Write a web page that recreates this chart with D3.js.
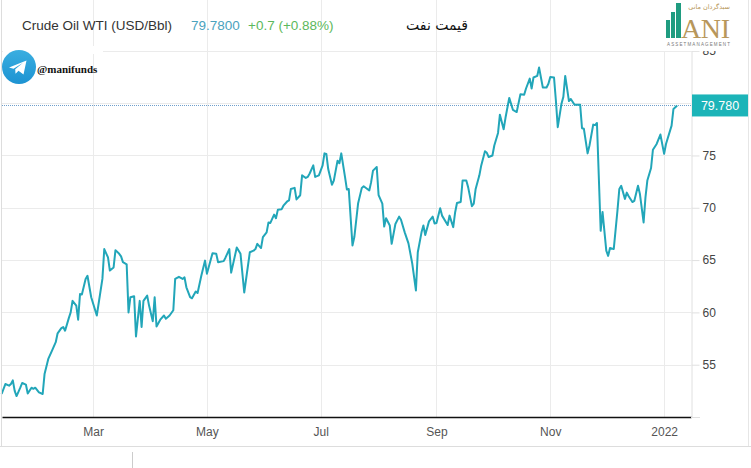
<!DOCTYPE html>
<html>
<head>
<meta charset="utf-8">
<script src="https://cdn.jsdelivr.net/npm/d3@7"></script>
<style>
	html, body { margin: 0; padding: 0; background: #fff; }
	svg { display: block; }
	.tick text { font-family: "Liberation Sans", Arial, sans-serif; }
</style>
</head>
<body>
<svg id="viz"></svg>
<script>
// days since 1 Jan 2021 (UTC) and WTI close
var days = [
	10, 12, 14, 15, 16, 17, 18, 20, 21, 23, 24, 26, 27, 28, 30, 32, 33, 35, 37, 39,
	40, 42, 43, 44, 46, 47, 48, 50, 51, 52, 53, 55, 56, 58, 61, 64, 65, 67, 68, 70,
	71, 73, 74, 75, 77, 78, 79, 81, 82, 84, 85, 86, 88, 89, 91, 92, 93, 95, 97, 98,
	100, 102, 103, 105, 107, 108, 109, 111, 112, 114, 115, 117, 119, 120, 123, 125, 126, 129, 130, 132,
	133, 136, 138, 140, 143, 145, 146, 147, 149, 150, 152, 153, 154, 156, 157, 158, 160, 161, 163, 164,
	165, 167, 168, 170, 171, 173, 174, 175, 177, 178, 180, 182, 183, 184, 185, 187, 188, 190, 191, 192,
	194, 195, 196, 198, 199, 201, 203, 204, 207, 208, 209, 211, 212, 214, 215, 216, 218, 219, 221, 223,
	224, 226, 228, 230, 232, 233, 235, 236, 237, 239, 241, 242, 243, 245, 246, 249, 250, 252, 253, 254,
	256, 257, 259, 260, 262, 263, 264, 266, 267, 269, 270, 271, 273, 274, 276, 277, 279, 280, 282, 284,
	286, 287, 288, 290, 291, 293, 294, 295, 297, 298, 300, 302, 303, 304, 306, 307, 308, 310, 311, 312,
	314, 315, 317, 320, 321, 322, 324, 325, 327, 328, 329, 331, 332, 334, 335, 336, 338, 340, 341, 342,
	344, 345, 346, 348, 349, 351, 352, 354, 355, 356, 358, 359, 361, 363, 365, 366, 369, 370, 372
];
var prices = [
	52.2, 53.15, 53.0, 53.15, 53.5, 52.5, 52.0, 52.8, 53.25, 53.1, 52.25, 52.8, 52.7, 52.8, 52.35, 52.2, 54.1, 55.55, 56.35, 57.15,
	58.0, 58.5, 58.6, 58.25, 59.45, 60.0, 61.1, 60.65, 59.3, 61.75, 61.7, 63.2, 63.5, 61.45, 59.7, 63.2, 66.05, 65.25, 64.0, 64.3,
	65.95, 65.6, 65.35, 64.8, 64.6, 60.0, 61.45, 61.55, 57.7, 61.1, 58.6, 61.1, 61.6, 60.65, 59.15, 61.45, 58.65, 59.3, 59.7, 59.4,
	59.7, 60.2, 63.2, 63.4, 63.2, 63.35, 62.4, 61.45, 61.35, 62.0, 61.85, 63.5, 64.95, 63.7, 65.65, 65.6, 64.8, 64.9, 65.25, 66.05,
	63.8, 66.2, 65.6, 61.9, 65.75, 65.9, 66.05, 66.55, 66.15, 67.2, 67.65, 68.6, 68.55, 69.35, 69.0, 69.8, 69.85, 70.2, 70.6, 70.7,
	71.8, 71.9, 70.8, 71.2, 73.1, 72.85, 72.95, 73.25, 74.05, 72.95, 73.1, 74.05, 75.2, 75.15, 73.7, 72.2, 72.6, 74.5, 74.25, 75.2,
	72.95, 71.75, 71.8, 66.4, 67.2, 70.4, 71.9, 72.05, 71.65, 72.45, 73.55, 73.9, 71.2, 70.4, 68.2, 69.0, 68.3, 66.55, 68.45, 69.15,
	68.85, 67.65, 66.6, 64.7, 62.1, 65.75, 67.65, 68.3, 67.4, 68.7, 69.15, 68.5, 68.55, 69.95, 69.25, 68.35, 69.25, 68.15, 69.55, 70.45,
	70.55, 72.6, 72.6, 71.95, 70.15, 70.4, 71.8, 73.1, 74.05, 75.4, 75.25, 74.85, 75.0, 75.95, 77.15, 78.9, 77.5, 78.6, 80.5, 79.35,
	79.15, 80.0, 80.85, 80.8, 81.4, 82.35, 81.4, 82.45, 82.6, 83.4, 81.5, 81.5, 81.85, 82.5, 82.45, 80.25, 77.7, 79.95, 80.6, 82.6,
	80.2, 80.4, 79.85, 79.85, 77.6, 77.55, 75.2, 75.95, 77.95, 77.9, 78.1, 67.8, 69.6, 65.9, 65.4, 66.15, 66.05, 69.75, 71.8, 72.1,
	70.85, 71.45, 71.1, 70.55, 70.65, 72.1, 71.35, 68.6, 71.0, 72.6, 73.8, 75.55, 76.1, 77.0, 75.15, 76.1, 77.85, 79.45, 79.78
];
var yTicks = [ 55, 60, 65, 70, 75, 80, 85 ];
var dayRange = [ 10.2, 379.4 ];
var valueRange = [ 50, 89.86 ];
var lastPrice = 79.78;
var title = 'Crude Oil WTI (USD/Bbl)';
var priceText = '79.7800';
var changeText = '+0.7 (+0.88%)';
var titleFa = 'قیمت نفت';

var colors = {
	line: '#22a6b9',
	badge: '#1cb4b8',
	grid: '#ebebeb',
	axisText: '#444'
};

var W = 751, H = 468;
var plot = { left: 2, right: 691, top: 0, bottom: 417 };
var t0 = Date.UTC( 2021, 0, 1 );
var toDate = function ( d ) { return new Date( t0 + d * 864e5 ); };

var data = days.map( function ( d, i ) {
	return { date: toDate( d ), value: prices[i] };
} );

var svg = d3.select( '#viz' ).attr( 'width', W ).attr( 'height', H );
svg.append( 'rect' ).attr( 'width', W ).attr( 'height', H ).attr( 'fill', '#fff' );

var x = d3.scaleUtc()
	.domain( dayRange.map( toDate ) )
	.range( [ plot.left, plot.right ] );
var y = d3.scaleLinear()
	.domain( valueRange )
	.range( [ plot.bottom, plot.top ] );

var monthTicks = x.ticks( d3.utcMonth.every( 2 ) );
var fmt = function ( d ) {
	return d.getUTCMonth() === 0 ? d3.utcFormat( '%Y' )( d ) : d3.utcFormat( '%b' )( d );
};

// grid
svg.append( 'g' ).selectAll( 'line.vg' )
	.data( monthTicks )
	.enter()
	.append( 'line' )
	.attr( 'x1', function ( d ) { return Math.round( x( d ) ) + 0.5; } )
	.attr( 'x2', function ( d ) { return Math.round( x( d ) ) + 0.5; } )
	.attr( 'y1', plot.top )
	.attr( 'y2', plot.bottom )
	.attr( 'stroke', colors.grid );
svg.append( 'g' ).selectAll( 'line.hg' )
	.data( yTicks )
	.enter()
	.append( 'line' )
	.attr( 'x1', plot.left )
	.attr( 'x2', plot.right )
	.attr( 'y1', function ( d ) { return Math.round( y( d ) ) + 0.5; } )
	.attr( 'y2', function ( d ) { return Math.round( y( d ) ) + 0.5; } )
	.attr( 'stroke', colors.grid );

// right axis: the label under the price badge is left out, as in the original
var labelTicks = yTicks.filter( function ( v ) {
	return Math.abs( y( v ) - y( lastPrice ) ) > 12;
} );
var yAxis = svg.append( 'g' )
	.attr( 'transform', 'translate(' + ( plot.right + 0.5 ) + ',0)' )
	.call( d3.axisRight( y ).tickValues( labelTicks ).tickSize( 8 ).tickPadding( 3 ).tickSizeOuter( 0 ) );
yAxis.select( '.domain' ).attr( 'stroke', '#e0e0e0' );
yAxis.selectAll( '.tick line' ).attr( 'stroke', '#e0e0e0' );
yAxis.selectAll( '.tick text' ).attr( 'fill', colors.axisText ).style( 'font-size', '12px' );

// bottom axis
var xAxis = svg.append( 'g' )
	.attr( 'transform', 'translate(0,' + plot.bottom + ')' )
	.call( d3.axisBottom( x ).tickValues( monthTicks ).tickFormat( fmt ).tickSize( 0 ).tickPadding( 10 ).tickSizeOuter( 0 ) );
xAxis.select( '.domain' ).attr( 'stroke', '#111' ).attr( 'stroke-width', 1.5 );
xAxis.selectAll( '.tick text' ).attr( 'fill', '#555' ).style( 'font-size', '12px' );
svg.append( 'line' )
	.attr( 'x1', plot.right ).attr( 'x2', plot.right + 9 )
	.attr( 'y1', plot.bottom + 0.5 ).attr( 'y2', plot.bottom + 0.5 )
	.attr( 'stroke', '#e0e0e0' );

// last price guide
svg.append( 'line' )
	.attr( 'x1', plot.left ).attr( 'x2', plot.right )
	.attr( 'y1', Math.round( y( lastPrice ) ) + 0.5 ).attr( 'y2', Math.round( y( lastPrice ) ) + 0.5 )
	.attr( 'stroke', '#6f9fcc' )
	.attr( 'stroke-dasharray', '1,1' );

// price line
svg.append( 'path' )
	.datum( data )
	.attr( 'fill', 'none' )
	.attr( 'stroke', colors.line )
	.attr( 'stroke-width', 2 )
	.attr( 'stroke-linejoin', 'round' )
	.attr( 'd', d3.line()
		.x( function ( d ) { return x( d.date ); } )
		.y( function ( d ) { return y( d.value ); } ) );

// price badge
svg.append( 'rect' )
	.attr( 'x', plot.right + 1 ).attr( 'y', y( lastPrice ) - 11 )
	.attr( 'width', 57 ).attr( 'height', 22 )
	.attr( 'fill', colors.badge );
svg.append( 'text' )
	.attr( 'x', plot.right + 29 ).attr( 'y', y( lastPrice ) + 4.5 )
	.attr( 'text-anchor', 'middle' )
	.attr( 'fill', '#fff' )
	.style( 'font', '12.5px "Liberation Sans", Arial, sans-serif' )
	.text( d3.format( '.3f' )( lastPrice ) );

// header
var head = svg.append( 'text' )
	.attr( 'x', 22 ).attr( 'y', 30 )
	.style( 'font', '13.5px "Liberation Sans", Arial, sans-serif' );
head.append( 'tspan' ).attr( 'fill', '#333' ).text( title );
head.append( 'tspan' ).attr( 'x', 191 ).attr( 'fill', '#4aa2bd' ).text( priceText );
head.append( 'tspan' ).attr( 'x', 248 ).attr( 'fill', '#5cb85c' ).text( changeText );
svg.append( 'text' )
	.attr( 'x', 468 ).attr( 'y', 30 )
	.attr( 'text-anchor', 'end' )
	.attr( 'fill', '#111' )
	.style( 'font', '14px "DejaVu Sans", sans-serif' )
	.text( titleFa );

// telegram badge
var tg = svg.append( 'g' );
var grad = svg.append( 'defs' ).append( 'linearGradient' )
	.attr( 'id', 'tgGrad' ).attr( 'x1', 0 ).attr( 'y1', 0 ).attr( 'x2', 0 ).attr( 'y2', 1 );
grad.append( 'stop' ).attr( 'offset', 0 ).attr( 'stop-color', '#3aaee0' );
grad.append( 'stop' ).attr( 'offset', 1 ).attr( 'stop-color', '#1d93d2' );
tg.append( 'rect' ).attr( 'x', 3 ).attr( 'y', 46 ).attr( 'width', 100 ).attr( 'height', 8 ).attr( 'fill', '#fff' );
tg.append( 'circle' ).attr( 'cx', 19 ).attr( 'cy', 67 ).attr( 'r', 17 ).attr( 'fill', 'url(#tgGrad)' );
tg.append( 'path' )
	.attr( 'transform', 'translate(18,67)' )
	.attr( 'd', 'M-9,0.5 L8.5,-6.5 L5.5,7.5 L0.5,3.8 L-2.5,6.8 L-2.8,2.2 L5,-4.2 L-4.5,1.8 Z' )
	.attr( 'fill', '#fff' );
tg.append( 'text' )
	.attr( 'x', 37 ).attr( 'y', 73 )
	.attr( 'fill', '#111' )
	.style( 'font', 'bold 11px "Liberation Serif", serif' )
	.text( '@manifunds' );

// logo (its white plate hides most of the 85 label, as in the original)
var logo = svg.append( 'g' );
logo.append( 'rect' ).attr( 'x', 663 ).attr( 'y', 0 ).attr( 'width', 74 ).attr( 'height', 51 ).attr( 'fill', '#fff' );
[ [ 666, 20, 4 ], [ 671, 12, 4 ], [ 676, 3, 5 ] ].forEach( function ( b ) {
	logo.append( 'rect' ).attr( 'x', b[0] ).attr( 'y', b[1] ).attr( 'width', b[2] ).attr( 'height', 38 - b[1] )
		.attr( 'fill', '#1f9c80' );
} );
logo.append( 'text' )
	.attr( 'x', 681 ).attr( 'y', 38 )
	.attr( 'fill', '#b8975b' )
	.style( 'font', '28px "Liberation Serif", serif' )
	.attr( 'textLength', 49 )
	.text( 'ANI' );
logo.append( 'text' )
	.attr( 'x', 730 ).attr( 'y', 9 )
	.attr( 'text-anchor', 'end' )
	.attr( 'fill', '#b8975b' )
	.style( 'font', '6.5px "DejaVu Sans", sans-serif' )
	.text( 'سبدگردان مانی' );
logo.append( 'text' )
	.attr( 'x', 667 ).attr( 'y', 46 )
	.attr( 'fill', '#777' )
	.style( 'font', '4.5px "Liberation Sans", sans-serif' )
	.attr( 'textLength', 63 )
	.text( 'ASSETMANAGEMENT' );

// frame
svg.append( 'line' ).attr( 'x1', 1.5 ).attr( 'x2', 1.5 ).attr( 'y1', 0 ).attr( 'y2', 446 ).attr( 'stroke', '#ddd' );
svg.append( 'line' ).attr( 'x1', 748.5 ).attr( 'x2', 748.5 ).attr( 'y1', 0 ).attr( 'y2', 446 ).attr( 'stroke', '#e6e6e6' );
svg.append( 'line' ).attr( 'x1', 0 ).attr( 'x2', W ).attr( 'y1', 446.5 ).attr( 'y2', 446.5 ).attr( 'stroke', '#ddd' );
svg.append( 'line' ).attr( 'x1', 132.5 ).attr( 'x2', 132.5 ).attr( 'y1', 452 ).attr( 'y2', H ).attr( 'stroke', '#ccc' );
</script>
</body>
</html>
